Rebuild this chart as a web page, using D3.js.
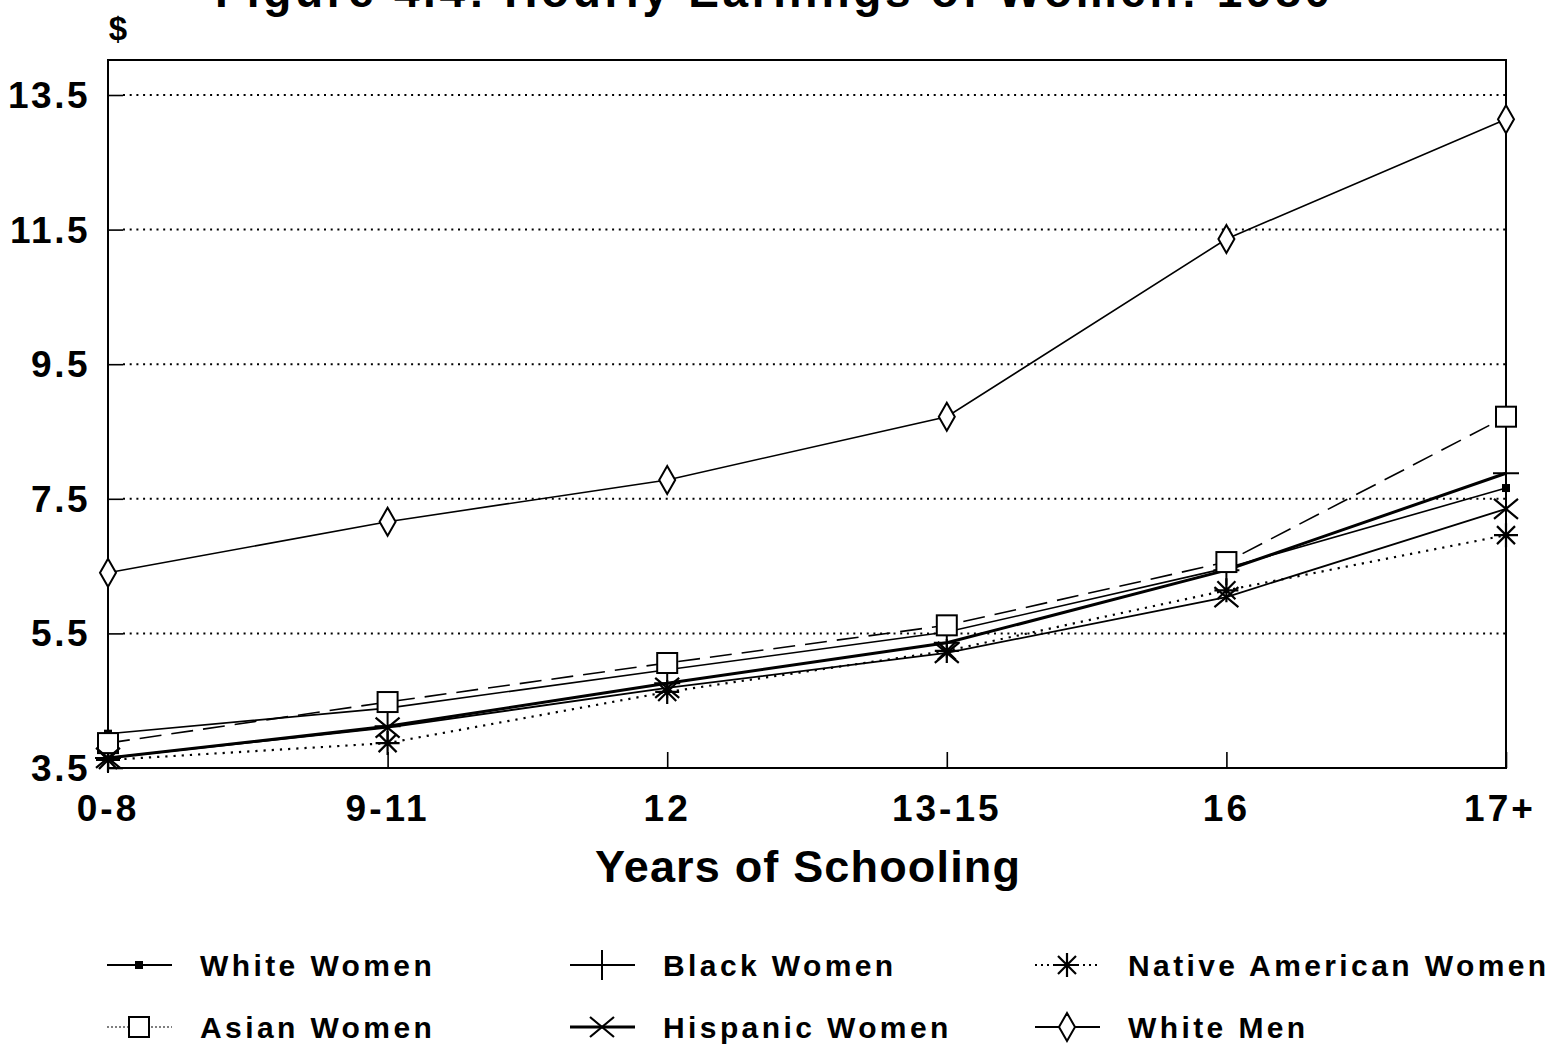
<!DOCTYPE html>
<html>
<head>
<meta charset="utf-8">
<script src="https://cdn.jsdelivr.net/npm/d3@7/dist/d3.min.js"></script>
<style>
  body { margin: 0; background: #fff; }
  svg text { font-family: "Liberation Sans", Arial, Helvetica, sans-serif; fill: #000; }
</style>
</head>
<body>
<div id="chart"></div>
<script>
// Data
const schooling = ['0-8', '9-11', '12', '13-15', '16', '17+'];
const whiteWomen    = [4.01, 4.39, 4.96, 5.52, 6.47, 7.66];
const blackWomen    = [3.65, 4.12, 4.76, 5.36, 6.44, 7.88];
const nativeWomen   = [3.62, 3.87, 4.63, 5.24, 6.14, 6.96];
const asianWomen    = [3.87, 4.48, 5.06, 5.62, 6.56, 8.72];
const hispanicWomen = [3.65, 4.10, 4.69, 5.21, 6.04, 7.35];
const whiteMen      = [6.40, 7.16, 7.78, 8.72, 11.36, 13.14];
const yTicks = [3.5, 5.5, 7.5, 9.5, 11.5, 13.5];

const series = [
    {name: 'White Women', values: whiteWomen, marker: 'smallsquare', width: 1.6, dash: null},
    {name: 'Black Women', values: blackWomen, marker: 'plus', width: 3, dash: null},
    {name: 'Native American Women', values: nativeWomen, marker: 'asterisk', width: 2.2, dash: '2.2,6'},
    {name: 'Asian Women', values: asianWomen, marker: 'square', width: 1.6, dash: '22,10'},
    {name: 'Hispanic Women', values: hispanicWomen, marker: 'cross', width: 1.8, dash: null},
    {name: 'White Men', values: whiteMen, marker: 'diamond', width: 1.6, dash: null}
];

const W = 1559, H = 1045;
const margin = {top: 60, right: 53, bottom: 277, left: 108};
const width = W - margin.left - margin.right;
const height = H - margin.top - margin.bottom;

const svg = d3.select('#chart').append('svg')
    .attr('width', W)
    .attr('height', H);

const chart = svg.append('g')
    .attr('transform', `translate(${margin.left},${margin.top})`);

const xScale = d3.scalePoint()
    .domain(schooling)
    .range([0, width])
    .padding(0);

const yScale = d3.scaleLinear()
    .domain([3.5, 14.02])
    .range([height, 0]);

// Gridlines (dotted) with short solid inner tick
chart.selectAll('.grid')
    .data(yTicks.filter(d => d > 3.5))
    .join('line')
    .attr('class', 'grid')
    .attr('x1', 15)
    .attr('x2', width)
    .attr('y1', d => yScale(d))
    .attr('y2', d => yScale(d))
    .attr('stroke', '#000')
    .attr('stroke-width', 2)
    .attr('stroke-dasharray', '2,4.7');

// Axes with inward ticks
const yAxis = d3.axisRight(yScale).tickValues(yTicks).tickSize(15).tickFormat('');
const xAxis = d3.axisTop(xScale).tickSize(16).tickFormat('');

chart.append('g').attr('class', 'axis y-axis').call(yAxis)
    .call(g => g.select('.domain').remove())
    .selectAll('line').attr('stroke-width', 1.6);

chart.append('g').attr('class', 'axis x-axis')
    .attr('transform', `translate(0,${height})`)
    .call(xAxis)
    .call(g => g.select('.domain').remove())
    .selectAll('line').attr('stroke-width', 1.6);

// Frame
chart.append('rect')
    .attr('x', 0).attr('y', 0)
    .attr('width', width).attr('height', height)
    .attr('fill', 'none')
    .attr('stroke', '#000')
    .attr('stroke-width', 2);

// Tick labels
svg.selectAll('.ylab')
    .data(yTicks)
    .join('text')
    .attr('class', 'ylab')
    .attr('x', 90)
    .attr('y', d => margin.top + yScale(d) + 13)
    .attr('text-anchor', 'end')
    .style('font-size', '37px')
    .style('font-weight', 'bold')
    .style('letter-spacing', '2.5px')
    .text(d => d.toFixed(1));

svg.selectAll('.xlab')
    .data(schooling)
    .join('text')
    .attr('class', 'xlab')
    .attr('x', (d, i) => margin.left + xScale(d) + (i === schooling.length - 1 ? -6 : 0))
    .attr('y', margin.top + height + 53)
    .attr('text-anchor', 'middle')
    .style('font-size', '37px')
    .style('font-weight', 'bold')
    .style('letter-spacing', '3px')
    .text(d => d);

// Titles (the reference shows the title cut off at the top edge)
svg.append('text')
    .attr('x', 215)
    .attr('y', 7)
    .attr('textLength', 1115)
    .style('font-size', '46px')
    .style('font-weight', 'bold')
    .text('Figure 4.4: Hourly Earnings of Women: 1980');

svg.append('text')
    .attr('x', 118)
    .attr('y', 40)
    .attr('text-anchor', 'middle')
    .style('font-size', '33px')
    .style('font-weight', 'bold')
    .text('$');

svg.append('text')
    .attr('x', 595)
    .attr('y', 882)
    .attr('textLength', 425)
    .style('font-size', '45px')
    .style('font-weight', 'bold')
    .text('Years of Schooling');

// Marker drawing
function drawMarker(g, type) {
    const s = g.append('g').attr('fill', 'none').attr('stroke', '#000').attr('stroke-width', 2);
    if (type === 'diamond') {
        s.append('path').attr('d', 'M0,-14L8,0L0,14L-8,0Z').attr('fill', '#fff');
    } else if (type === 'square') {
        s.append('rect').attr('x', -10).attr('y', -10).attr('width', 20).attr('height', 20).attr('fill', '#fff');
    } else if (type === 'smallsquare') {
        s.append('rect').attr('x', -3).attr('y', -3).attr('width', 6).attr('height', 6).attr('fill', '#000');
    } else if (type === 'plus') {
        s.append('path').attr('d', 'M-13,0H13M0,-15V15');
    } else if (type === 'cross') {
        s.append('path').attr('d', 'M-12,-10L12,10M-12,10L12,-10').attr('stroke-width', 2.2);
    } else if (type === 'asterisk') {
        s.append('path').attr('d', 'M-12,0H12M0,-12V12M-9,-9L9,9M-9,9L9,-9').attr('stroke-width', 2.2);
    }
}

const line = d3.line()
    .x((d, i) => xScale(schooling[i]))
    .y(d => yScale(d));

series.forEach(s => {
    chart.append('path')
        .datum(s.values)
        .attr('fill', 'none')
        .attr('stroke', '#000')
        .attr('stroke-width', s.width)
        .attr('stroke-dasharray', s.dash)
        .attr('d', line);
});

series.forEach(s => {
    s.values.forEach((v, i) => {
        const g = chart.append('g')
            .attr('transform', `translate(${xScale(schooling[i])},${yScale(v)})`);
        drawMarker(g, s.marker);
    });
});

// Legend
const legendOrder = ['White Women', 'Black Women', 'Native American Women', 'Asian Women', 'Hispanic Women', 'White Men'];
const legendCols = [107, 570, 1035];
const legendRows = [965, 1027];
const legendWidths = [1.8, 2, 1.8, 1.2, 3, 2];
const legendDash = [null, null, '2,4', '2,2', null, null];

legendOrder.forEach((name, i) => {
    const s = series.find(d => d.name === name);
    const x = legendCols[i % 3], y = legendRows[Math.floor(i / 3)];
    const lg = svg.append('g').attr('transform', `translate(${x},${y})`);
    lg.append('line')
        .attr('x1', 0).attr('x2', 65)
        .attr('stroke', '#000')
        .attr('stroke-width', legendWidths[i])
        .attr('stroke-dasharray', legendDash[i]);
    drawMarker(lg.append('g').attr('transform', 'translate(32,0)'), s.marker);
    lg.append('text')
        .attr('x', 93)
        .attr('y', 11)
        .style('font-size', '30px')
        .style('font-weight', 'bold')
        .style('letter-spacing', '3.4px')
        .text(name);
});
</script>
</body>
</html>
